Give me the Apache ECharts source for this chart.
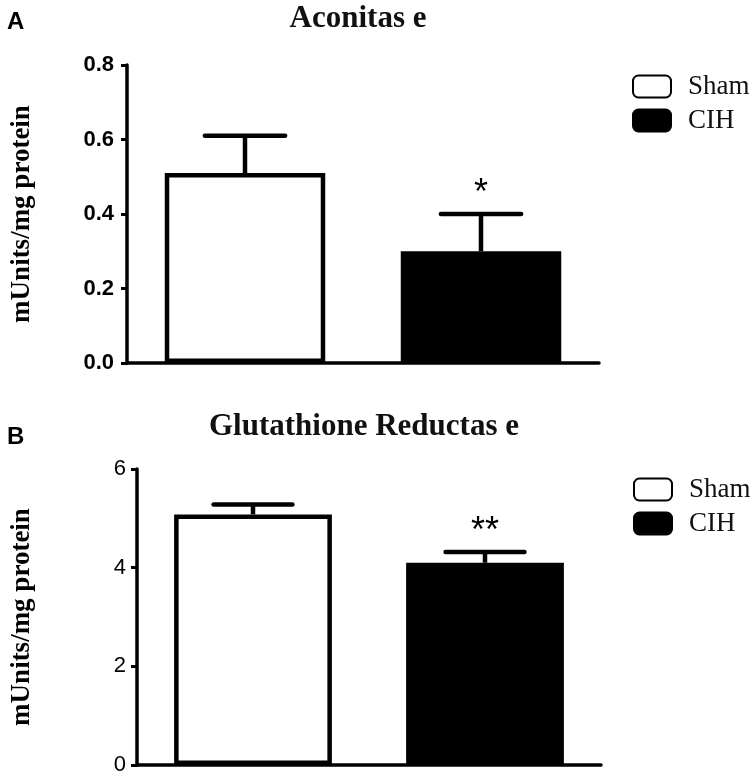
<!DOCTYPE html>
<html>
<head>
<meta charset="utf-8">
<script src="https://cdn.jsdelivr.net/npm/echarts@6/dist/echarts.min.js"></script>
<style>
html,body{margin:0;padding:0;background:#fff;}
#chart{width:756px;height:778px;}
</style>
</head>
<body>
<div id="chart"></div>
<script>
// ---- data ----
const categories = ['Sham', 'CIH'];
const aconitaseMean = [0.51, 0.30];
const aconitaseSem = [0.10, 0.10];
const aconitaseSig = ['', '*'];
const aconitaseTicks = [0, 0.2, 0.4, 0.6, 0.8];
const grMean = [5.08, 4.10];
const grSem = [0.20, 0.22];
const grSig = ['', '**'];
const grTicks = [0, 2, 4, 6];
const panelTitles = ['Aconitas e', 'Glutathione Reductas e'];
const panelLetters = ['A', 'B'];
const yName = 'mUnits/mg protein';

const chart = echarts.init(document.getElementById('chart'));

function barSeries(name, idx, values, gridIdx, style) {
  return {
    type: 'bar',
    name: name,
    xAxisIndex: gridIdx,
    yAxisIndex: gridIdx,
    barWidth: '68%',
    barGap: '-100%',
    data: values.map((v, i) => (i === idx ? v : '-')),
    itemStyle: style,
    emphasis: { disabled: true },
    z: 2
  };
}

function errSeries(means, sems, sigs, gridIdx) {
  return {
    type: 'custom',
    xAxisIndex: gridIdx,
    yAxisIndex: gridIdx,
    data: means.map((m, i) => [i, m, m + sems[i]]),
    encode: { x: 0, y: [1, 2] },
    z: 3,
    silent: true,
    renderItem: function (params, api) {
      const x = api.value(0);
      const base = api.coord([x, api.value(1)]);
      const top = api.coord([x, api.value(2)]);
      const band = api.size([1, 0])[0];
      const half = band * 0.17;
      const sig = sigs[params.dataIndex];
      const children = [
        { type: 'line', shape: { x1: base[0], y1: base[1], x2: top[0], y2: top[1] },
          style: { stroke: '#000', lineWidth: 4.5 } },
        { type: 'line', shape: { x1: top[0] - half, y1: top[1], x2: top[0] + half, y2: top[1] },
          style: { stroke: '#000', lineWidth: 4.5, lineCap: 'round' } }
      ];
      if (sig) {
        children.push({ type: 'text', style: { text: sig, x: top[0], y: top[1] - 20,
          align: 'center', verticalAlign: 'middle', fill: '#000',
          font: '36px "Liberation Sans", Arial, sans-serif' } });
      }
      return { type: 'group', children: children };
    }
  };
}

const whiteStyle = { color: '#fff', borderColor: '#000', borderWidth: 4.5 };
const blackStyle = { color: '#000', borderColor: '#000', borderWidth: 4.5 };

function yAxis(gridIdx, ticks, bold, margin, gap) {
  return {
    type: 'value',
    gridIndex: gridIdx,
    min: ticks[0],
    max: ticks[ticks.length - 1],
    interval: ticks[1] - ticks[0],
    name: yName,
    nameLocation: 'middle',
    nameGap: gap,
    nameTextStyle: { fontFamily: '"Liberation Serif", "Times New Roman", serif', fontWeight: 'bold', fontSize: 27, color: '#000' },
    axisLine: { show: true, lineStyle: { color: '#000', width: 3.5 } },
    axisTick: { show: true, length: 6, lineStyle: { color: '#000', width: 3 } },
    splitLine: { show: false },
    axisLabel: {
      color: '#000', fontSize: 22, margin: margin,
      fontFamily: '"Liberation Sans", Arial, sans-serif',
      fontWeight: bold ? 'bold' : 'normal',
      formatter: v => (bold ? v.toFixed(1) : String(v))
    }
  };
}

function xAxis(gridIdx) {
  return {
    type: 'category',
    gridIndex: gridIdx,
    data: categories,
    axisLine: { show: true, lineStyle: { color: '#000', width: 3.5 } },
    axisTick: { show: false },
    axisLabel: { show: false },
    splitLine: { show: false }
  };
}

const legendText = { fontFamily: '"Liberation Serif", "Times New Roman", serif', fontSize: 27, color: '#111', padding: [0, 0, 0, 12] };

const option = {
  animation: false,
  backgroundColor: '#fff',
  title: [
    { text: panelLetters[0], left: 7, top: 10, padding: 0,
      textStyle: { fontFamily: '"Liberation Sans", Arial, sans-serif', fontWeight: 'bold', fontSize: 24, color: '#000' } },
    { text: panelTitles[0], left: 358, textAlign: 'center', top: 3, padding: 0,
      textStyle: { fontFamily: '"Liberation Serif", "Times New Roman", serif', fontWeight: 'bold', fontSize: 31, color: '#111' } },
    { text: panelLetters[1], left: 7, top: 425, padding: 0,
      textStyle: { fontFamily: '"Liberation Sans", Arial, sans-serif', fontWeight: 'bold', fontSize: 24, color: '#000' } },
    { text: panelTitles[1], left: 364, textAlign: 'center', top: 411, padding: 0,
      textStyle: { fontFamily: '"Liberation Serif", "Times New Roman", serif', fontWeight: 'bold', fontSize: 31, color: '#111' } }
  ],
  legend: [
    { data: categories, orient: 'vertical', left: 632, top: 73, itemWidth: 38, itemHeight: 22,
      itemGap: 7, icon: 'roundRect', selectedMode: false, padding: 0, textStyle: legendText },
    { data: categories, orient: 'vertical', left: 633, top: 476, itemWidth: 38, itemHeight: 22,
      itemGap: 7, icon: 'roundRect', selectedMode: false, padding: 0, textStyle: legendText }
  ],
  grid: [
    { left: 127, right: 157, top: 65, bottom: 415, outerBoundsMode: 'none', containLabel: false },
    { left: 137, right: 155, top: 469, bottom: 13, outerBoundsMode: 'none', containLabel: false }
  ],
  xAxis: [xAxis(0), xAxis(1)],
  yAxis: [yAxis(0, aconitaseTicks, true, 13, 91), yAxis(1, grTicks, false, 11, 101)],
  series: [
    barSeries('Sham', 0, aconitaseMean, 0, whiteStyle),
    barSeries('CIH', 1, aconitaseMean, 0, blackStyle),
    errSeries(aconitaseMean, aconitaseSem, aconitaseSig, 0),
    barSeries('Sham', 0, grMean, 1, whiteStyle),
    barSeries('CIH', 1, grMean, 1, blackStyle),
    errSeries(grMean, grSem, grSig, 1)
  ]
};
chart.setOption(option);
</script>
</body>
</html>
